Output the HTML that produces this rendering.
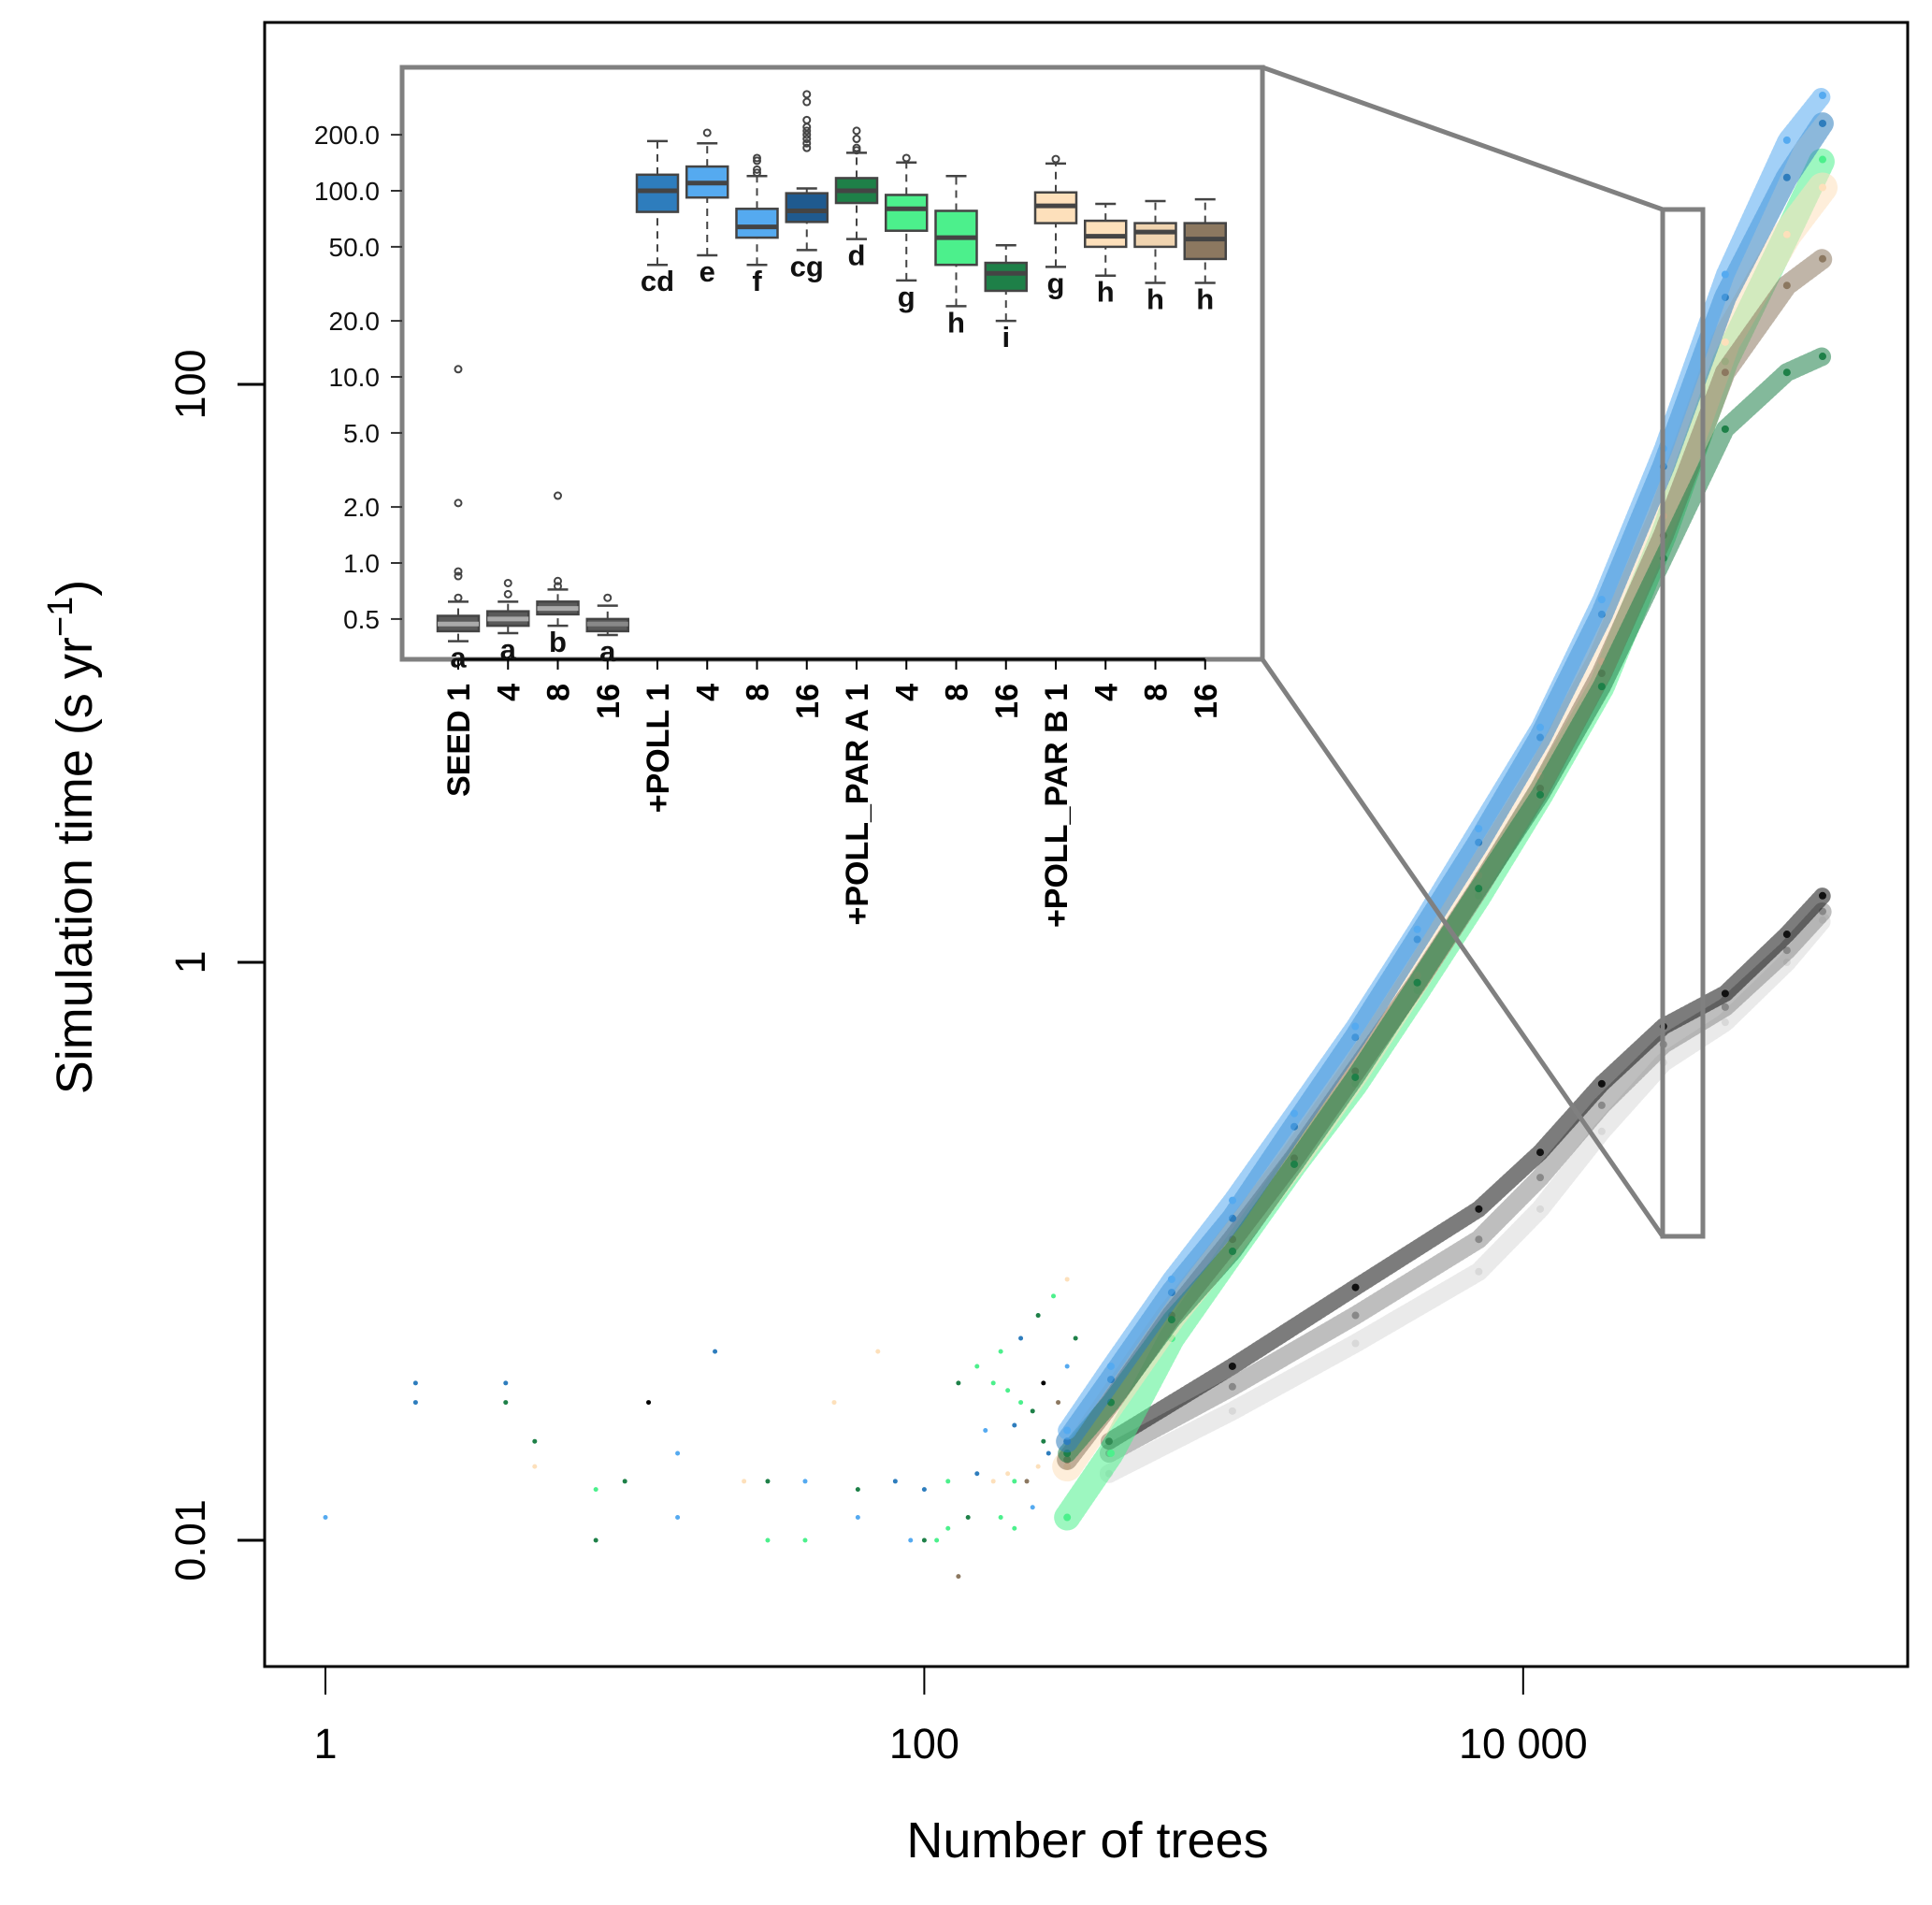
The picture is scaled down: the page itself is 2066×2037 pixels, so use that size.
<!DOCTYPE html>
<html><head><meta charset="utf-8"><style>
html,body{margin:0;padding:0;background:#fff}
svg{display:block}
text{font-family:"Liberation Sans",Arial,sans-serif}
</style></head><body>
<svg id="chart" width="2066" height="2037" viewBox="0 0 2066 2037" xmlns="http://www.w3.org/2000/svg">
<g id="scatter"></g>
<rect x="283" y="24" width="1757" height="1758" fill="none" stroke="#000" stroke-width="3"/>
<g id="axes"></g>
<text x="1163" y="1986" font-size="54" text-anchor="middle">Number of trees</text>
<text transform="translate(98,895) rotate(-90)" font-size="54" text-anchor="middle">Simulation time (s yr<tspan baseline-shift="super" font-size="38">−1</tspan>)</text>
<g id="zoom">
<line x1="1350" y1="72" x2="1778" y2="224" stroke="#808080" stroke-width="5"/>
<line x1="1350" y1="705" x2="1778" y2="1322" stroke="#808080" stroke-width="5"/>
<rect x="1778" y="224" width="43" height="1098" fill="none" stroke="#808080" stroke-width="5"/>
</g>
<g id="inset">
<rect x="430" y="72" width="920" height="633" fill="#fff" stroke="#808080" stroke-width="5"/>
</g>
</svg>
<script>
// ---------- main scatter data ----------
const trees = [300, 420, 670, 1070, 1720, 2750, 4430, 7100, 11400, 18300, 29400, 47300, 76000, 100000];
const timeLightBlue = [0.024, 0.04, 0.08, 0.15, 0.3, 0.6, 1.3, 2.9, 6.5, 18, 60, 240, 700, 1000];
const timeDarkBlue = [0.022, 0.036, 0.072, 0.13, 0.27, 0.55, 1.2, 2.6, 6, 16, 52, 200, 520, 800];
const timeTan = [0.018, 0.03, 0.06, 0.11, 0.21, 0.42, 0.9, 2.0, 4.4, 11, 35, 140, 330, 480];
const timeBrown = [0.019, 0.03, 0.06, 0.11, 0.21, 0.42, 0.85, 1.8, 4, 10, 30, 110, 220, 272];
const timeDarkGreen = [0.02, 0.03, 0.058, 0.1, 0.2, 0.4, 0.85, 1.8, 3.8, 9, 25, 70, 110, 125];
const timeLightGreen = [0.012, 0.02, 0.05, 0.1, 0.2, 0.38, 0.8, 1.7, 3.8, 9, 30, 120, 330, 600];
const treesSeed = [414, 1069, 2755, 7110, 11400, 18300, 29400, 47300, 76000, 100000];
const timeBlack = [0.022, 0.04, 0.075, 0.14, 0.22, 0.38, 0.6, 0.78, 1.25, 1.7];
const timeDarkGray = [0.02, 0.034, 0.06, 0.11, 0.18, 0.32, 0.52, 0.7, 1.1, 1.5];
const timeLightGray = [0.017, 0.028, 0.048, 0.085, 0.14, 0.26, 0.45, 0.62, 1.0, 1.4];
const sparseTrees = [1, 2, 2, 4, 4, 5, 8, 10, 12, 15, 20, 25, 30, 30, 40, 50, 60, 80, 100, 120, 150, 8, 40, 60, 100, 130, 200, 5, 15, 70,
  170, 190, 210, 230, 250, 170, 190, 220, 240, 260, 180, 200, 230, 150, 160, 200, 250, 280, 300, 320, 180, 210, 240, 270, 300, 140, 120, 110, 90, 130];
const sparseTime = [0.012, 0.03, 0.035, 0.035, 0.03, 0.018, 0.015, 0.016, 0.03, 0.02, 0.045, 0.016, 0.01, 0.016, 0.016, 0.03, 0.015, 0.016, 0.015, 0.016, 0.04, 0.01, 0.01, 0.012, 0.01, 0.0075, 0.016, 0.022, 0.012, 0.045,
  0.035, 0.033, 0.03, 0.028, 0.035, 0.016, 0.017, 0.016, 0.018, 0.02, 0.012, 0.011, 0.013, 0.017, 0.024, 0.025, 0.022, 0.03, 0.04, 0.05, 0.045, 0.05, 0.06, 0.07, 0.08, 0.012, 0.011, 0.01, 0.01, 0.035];
const sparseColors = ['#55aaf0','#2e7dbd','#2e7dbd','#2e7dbd','#1e8048','#fde0bb','#4cf08c','#1e8048','#000','#55aaf0','#2e7dbd','#fde0bb','#4cf08c','#1e8048','#55aaf0','#fde0bb','#1e8048','#2e7dbd','#2e7dbd','#4cf08c','#4cf08c','#1e8048','#4cf08c','#55aaf0','#1e8048','#8c7860','#4cf08c','#1e8048','#55aaf0','#fde0bb',
  '#4cf08c','#4cf08c','#4cf08c','#1e8048','#000','#fde0bb','#fde0bb','#8c7860','#fde0bb','#2e7dbd','#4cf08c','#4cf08c','#55aaf0','#2e7dbd','#55aaf0','#2e7dbd','#1e8048','#8c7860','#55aaf0','#1e8048','#4cf08c','#2e7dbd','#1e8048','#4cf08c','#fde0bb','#1e8048','#4cf08c','#4cf08c','#55aaf0','#1e8048'];

// ---------- inset box data ----------
const groupLabels = ['SEED 1','4','8','16','+POLL 1','4','8','16','+POLL_PAR A 1','4','8','16','+POLL_PAR B 1','4','8','16'];
const letters = ['a','a','b','a','cd','e','f','cg','d','g','h','i','g','h','h','h'];
const wLow = [0.38,0.42,0.46,0.41,40,45,40,48,55,33,24,20,39,35,32,32];
const q1 = [0.43,0.46,0.53,0.43,77,92,56,68,86,61,40,29,67,50,50,43];
const med = [0.47,0.5,0.57,0.47,100,110,64,78,100,80,56,36,83,57,60,55];
const q3 = [0.52,0.55,0.62,0.5,122,135,80,97,117,95,78,41,98,69,67,67];
const wHigh = [0.62,0.62,0.72,0.59,185,180,120,103,160,142,120,51,140,85,88,90];
const outliers = [[11,2.1,0.9,0.85,0.65],[0.78,0.68],[2.3,0.8,0.75],[0.65],[],[205],[125,130,145,150],[170,180,190,200,210,220,240,300,330],[165,170,190,210],[150],[],[],[148],[],[],[]];
const boxColors = ['#5a5a5a','#5a5a5a','#5a5a5a','#5a5a5a','#2e7dbd','#55aaf0','#55aaf0','#1f5a8f','#1e8048','#4cf08c','#4cf08c','#1e8048','#fde0bb','#fde0bb','#f0d4b0','#8c7860'];
const medColors = ['#aaa','#aaa','#aaa','#888','#444','#444','#444','#444','#444','#444','#444','#444','#444','#444','#444','#444'];
const insetTicks = [0.5,1,2,5,10,20,50,100,200];
const insetTickLabels = ['0.5','1.0','2.0','5.0','10.0','20.0','50.0','100.0','200.0'];
const xTicks = [1,100,10000];
const xTickLabels = ['1','100','10 000'];
const yTicks = [0.01,1,100];
const yTickLabels = ['0.01','1','100'];

const NS='http://www.w3.org/2000/svg';
const X = v => 348 + Math.log10(v)*320.2;
const Y = v => 1029 - Math.log10(v)*309;
const IY = v => 204 - (Math.log10(v)-2)*199;
const IX = i => 490 + i*53.25;
function mk(tag, attrs, parent){const e=document.createElementNS(NS,tag);for(const k in attrs)e.setAttribute(k,attrs[k]);parent.appendChild(e);return e;}

const sc=document.getElementById('scatter');
function series(xs, ys, color, name, w){
  const pts = xs.map((x,i)=>X(x)+','+Y(ys[i])).join(' ');
  const pl = mk('polyline',{points:pts,fill:'none',stroke:color,'stroke-width':w,'stroke-opacity':0.55,'stroke-linecap':'round','stroke-linejoin':'round','stroke-dasharray':'2 3'},sc);
  
  
  xs.forEach((x,i)=>{
    const c = mk('circle',{cx:X(x),cy:Y(ys[i]),r:4,fill:color},sc);
    
    
  });
}
series(treesSeed, timeLightGray, '#d8d8d8', 'seed-16', 20);
series(treesSeed, timeDarkGray, '#888', 'seed-8', 20);
series(treesSeed, timeBlack, '#111', 'seed-1', 18);
series(trees, timeLightGreen, '#4cf08c', 'par-a-4', 28);
series(trees, timeTan, '#fde0bb', 'par-b-1', 32);
series(trees, timeBrown, '#8c7860', 'par-b-16', 22);
series(trees, timeDarkGreen, '#1e8048', 'par-a-16', 20);
series(trees, timeDarkBlue, '#2e7dbd', 'poll-1', 24);
series(trees, timeLightBlue, '#55aaf0', 'poll-4', 20);
sparseTrees.forEach((t,i)=>{
  const c = mk('circle',{cx:X(t),cy:Y(sparseTime[i]),r:2.5,fill:sparseColors[i]},sc);
  
  
});

const ax=document.getElementById('axes');
mk('line',{x1:X(1),y1:1782,x2:2040,y2:1782,stroke:'#000','stroke-width':3},ax);
xTicks.forEach((t,i)=>{
  const l=mk('line',{x1:X(t),y1:1782,x2:X(t),y2:1812,stroke:'#000','stroke-width':2},ax);
  
  
  const tx=mk('text',{x:X(t),y:1880,'font-size':45,'text-anchor':'middle'},ax);
  tx.textContent=xTickLabels[i];
  
  
});
yTicks.forEach((t,i)=>{
  const l=mk('line',{x1:254,y1:Y(t),x2:283,y2:Y(t),stroke:'#000','stroke-width':3},ax);
  
  
  const tx=mk('text',{transform:`translate(219,${Y(t)}) rotate(-90)`,'font-size':45,'text-anchor':'middle'},ax);
  tx.textContent=yTickLabels[i];
  
  
});

const ins=document.getElementById('inset');
insetTicks.forEach((t,i)=>{
  mk('line',{x1:418,y1:IY(t),x2:430,y2:IY(t),stroke:'#333','stroke-width':2},ins);
  const tx=mk('text',{x:406,y:IY(t)+10,'font-size':28,'text-anchor':'end',fill:'#111'},ins);
  tx.textContent=insetTickLabels[i];
  
  
});
mk('line',{x1:IX(0),y1:705,x2:IX(15),y2:705,stroke:'#000','stroke-width':3},ins);
groupLabels.forEach((g,i)=>{
  const cx=IX(i), hw=22;
  mk('line',{x1:cx,y1:705,x2:cx,y2:716,stroke:'#000','stroke-width':2},ins);
  const gg=mk('g',{},ins);
  
  
  mk('line',{x1:cx,y1:IY(wLow[i]),x2:cx,y2:IY(q1[i]),stroke:'#444','stroke-width':2,'stroke-dasharray':'8 6'},gg);
  mk('line',{x1:cx,y1:IY(q3[i]),x2:cx,y2:IY(wHigh[i]),stroke:'#444','stroke-width':2,'stroke-dasharray':'8 6'},gg);
  mk('line',{x1:cx-11,y1:IY(wLow[i]),x2:cx+11,y2:IY(wLow[i]),stroke:'#444','stroke-width':2.5},gg);
  mk('line',{x1:cx-11,y1:IY(wHigh[i]),x2:cx+11,y2:IY(wHigh[i]),stroke:'#444','stroke-width':2.5},gg);
  mk('rect',{x:cx-hw,y:IY(q3[i]),width:hw*2,height:IY(q1[i])-IY(q3[i]),fill:boxColors[i],stroke:'#444','stroke-width':2.5},gg);
  mk('line',{x1:cx-hw,y1:IY(med[i]),x2:cx+hw,y2:IY(med[i]),stroke:medColors[i],'stroke-width':5},gg);
  outliers[i].forEach(o=>mk('circle',{cx:cx,cy:IY(o),r:3.5,fill:'none',stroke:'#444','stroke-width':2},gg));
  const lt=mk('text',{x:cx,y:IY(wLow[i])+28,'font-size':31,'font-weight':'bold','text-anchor':'middle',fill:'#111'},ins);
  lt.textContent=letters[i];
  
  
  const gl=mk('text',{transform:`translate(${cx+12},731) rotate(-90)`,'font-size':34,'font-weight':'bold','text-anchor':'end',fill:'#000'},ins);
  gl.textContent=g;
  
  
});
</script>
</body></html>
